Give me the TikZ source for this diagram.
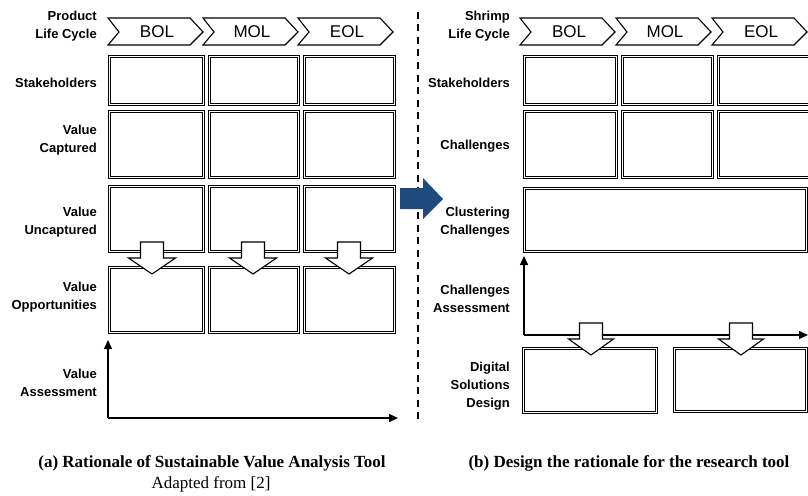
\documentclass[tikz,border=0pt]{standalone}
\usepackage{fontspec}
\setmainfont{Liberation Serif}
\newfontfamily\labfont{Liberation Sans}
\usetikzlibrary{arrows.meta}
\definecolor{navy}{RGB}{31,74,126}
\tikzset{
  lab/.style={font=\labfont\bfseries\fontsize{13}{18}\selectfont, align=right, anchor=east, inner sep=0pt},
  chevtext/.style={font=\labfont\fontsize{17}{20}\selectfont, inner sep=0pt},
  chev/.style={draw=black, line width=1.1pt, line join=miter},
  cellline/.style={draw=black, line width=0.9pt},
  blockarrow/.style={draw=black, fill=white, line width=1.1pt, line join=miter},
  axis/.style={draw=black, line width=1.5pt, -{Triangle[length=9pt,width=8pt]}},
  captb/.style={font=\bfseries\fontsize{17}{20}\selectfont, inner sep=0pt},
  captr/.style={font=\fontsize{17}{20}\selectfont, inner sep=0pt},
}
% cell: name, x1, y1, x2, y2  (double-ruled box)
\newcommand\mkcell[5]{%
  \draw[cellline] (#2,#3) rectangle (#4,#5);
  \draw[cellline] ({#2+2},{#3+2}) rectangle ({#4-2},{#5-2});
  \coordinate (#1) at ({(#2+#4)/2},{(#3+#5)/2});}
% chevron: name, x0, text
\newcommand\mkchev[3]{%
  \draw[chev] (#2,18) -- ({#2+82},18) -- ({#2+95},32) -- ({#2+82},45) -- (#2,45) -- ({#2+11},32) -- cycle;
  \node[chevtext] (#1) at ({#2+49},32) {#3};}
% down block arrow: name, center x, stem top, head top, tip, stem hw, head hw
\newcommand\mkdown[7]{%
  \draw[blockarrow] ({#2-#6},#3) -- ({#2+#6},#3) -- ({#2+#6},#4) -- ({#2+#7},#4) -- (#2,#5) -- ({#2-#7},#4) -- ({#2-#6},#4) -- cycle;
  \coordinate (#1) at (#2,#5);}
\begin{document}
\begin{tikzpicture}[x=1pt,y=-1pt]
\useasboundingbox (0,0) rectangle (808,495);
% ---------- left panel ----------
\node[lab] (lplc) at (97,26) {Product\\Life Cycle};
\node[lab] (lstk) at (97,83) {Stakeholders};
\node[lab] (lvc) at (97,140) {Value\\Captured};
\node[lab] (lvu) at (97,222) {Value\\Uncaptured};
\node[lab] (lvo) at (97,297) {Value\\Opportunities};
\node[lab] (lva) at (97,383) {Value\\Assessment};
\mkchev{lbol}{108}{BOL}
\mkchev{lmol}{203}{MOL}
\mkchev{leol}{298}{EOL}
\mkcell{ls1}{108}{55}{204}{105}
\mkcell{ls2}{208}{55}{299}{105}
\mkcell{ls3}{303}{55}{395}{105}
\mkcell{lc1}{108}{110}{204}{178}
\mkcell{lc2}{208}{110}{299}{178}
\mkcell{lc3}{303}{110}{395}{178}
\mkcell{lu1}{108}{185}{204}{252}
\mkcell{lu2}{208}{185}{299}{252}
\mkcell{lu3}{303}{185}{395}{252}
\mkcell{lo1}{108}{266}{204}{333}
\mkcell{lo2}{208}{266}{299}{333}
\mkcell{lo3}{303}{266}{395}{333}
\mkdown{la1}{152}{242}{258}{274}{11.5}{23.5}
\mkdown{la2}{253}{242}{258}{274}{11.5}{23.5}
\mkdown{la3}{349}{242}{258}{274}{11.5}{23.5}
\coordinate (lorig) at (108,418);
\coordinate (lytop) at (108,340);
\coordinate (lxend) at (398,418);
\draw[axis] (lorig) -- (lytop);
\draw[axis] (lorig) -- (lxend);
% ---------- separator ----------
\coordinate (dtop) at (418,12);
\coordinate (dbot) at (418,420);
\draw[line width=2pt, dash pattern=on 7pt off 5.5pt] (dtop) -- (dbot);
\fill[navy] (400,188) -- (423,188) -- (423,178) -- (443,199) -- (423,219) -- (423,209) -- (400,209) -- cycle;
% ---------- right panel ----------
\node[lab] (rplc) at (510,26) {Shrimp\\Life Cycle};
\node[lab] (rstk) at (510,83) {Stakeholders};
\node[lab] (rch) at (510,146) {Challenges};
\node[lab] (rcc) at (510,222) {Clustering\\Challenges};
\node[lab] (rca) at (510,299) {Challenges\\Assessment};
\node[lab] (rds) at (510,386) {Digital\\Solutions\\Design};
\mkchev{rbol}{520}{BOL}
\mkchev{rmol}{616}{MOL}
\mkchev{reol}{712}{EOL}
\mkcell{rs1}{523}{55}{617}{105}
\mkcell{rs2}{621}{55}{713}{105}
\mkcell{rs3}{717}{55}{813}{105}
\mkcell{rc1}{523}{110}{617}{178}
\mkcell{rc2}{621}{110}{713}{178}
\mkcell{rc3}{717}{110}{813}{178}
\mkcell{rcl}{523}{187}{807}{252}
\mkcell{rd1}{522}{347}{657}{413}
\mkcell{rd2}{673}{347}{807}{412}
\coordinate (rorig) at (524,335);
\coordinate (rytop) at (524,256);
\coordinate (rxend) at (808,335);
\draw[axis] (rorig) -- (rytop);
\draw[axis] (rorig) -- (rxend);
\mkdown{ra1}{591}{323}{339}{355}{11.5}{22.5}
\mkdown{ra2}{741}{323}{339}{355}{11.5}{22.5}
% ---------- captions ----------
\node[captb] (capa) at (212,463) {(a) Rationale of Sustainable Value Analysis Tool};
\node[captr] (capa2) at (211,484) {Adapted from [2]};
\node[captb] (capb) at (629,463) {(b) Design the rationale for the research tool};
\end{tikzpicture}
\end{document}
